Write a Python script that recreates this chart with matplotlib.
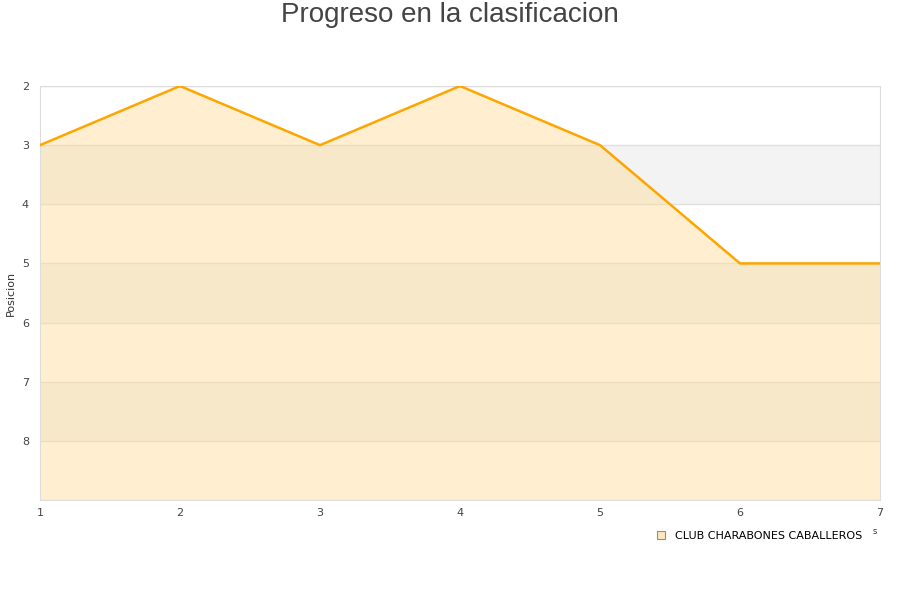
import matplotlib
matplotlib.use("Agg")
import matplotlib.pyplot as plt
from matplotlib.lines import Line2D

jornadas = [1, 2, 3, 4, 5, 6, 7]
posiciones = [3, 2, 3, 2, 3, 5, 5]
equipo = "CLUB CHARABONES CABALLEROS"
y_ticks = [2, 3, 4, 5, 6, 7, 8]
bandas = [(3, 4), (5, 6), (7, 8)]
y_min, y_max = 2, 9

fig = plt.figure(figsize=(9, 6), dpi=100)
ax = fig.add_axes([40/900, 100/600, 840/900, 414/600])

for a, b in bandas:
    ax.axhspan(a, b, color="#f3f3f3", zorder=0, lw=0)
for t in range(y_min, y_max + 1):
    ax.axhline(t, color="#e0e0e0", lw=1, zorder=1)

ax.fill_between(jornadas, posiciones, y_max, color="#ffd98a", alpha=0.4, lw=0, zorder=2)
ax.plot(jornadas, posiciones, color="#ffa500", lw=1.8, zorder=3)

ax.set_xlim(1, 7)
ax.set_ylim(y_max, y_min)
ax.set_xticks(jornadas)
ax.set_yticks(y_ticks)
ax.tick_params(length=0, labelsize=8, colors="#444444", pad=8)
ax.tick_params(axis="x", pad=6)
for s in ax.spines.values():
    s.set_color("#dddddd")

# y label placed by hand so it does not get clipped at the left edge
fig.text(11/900, 1 - 293/600, "Posicion", fontsize=8, color="#333333",
         rotation=90, ha="center", va="center")

fig.text(0.5, 1 - 15/600, "Progreso en la clasificacion", fontsize=20,
         color="#444444", ha="center", va="center", family="Liberation Sans")

handle = Line2D([], [], marker="s", ls="", markersize=6,
                markerfacecolor="#fde8c4", markeredgecolor="#b08a50", markeredgewidth=0.8)
fig.legend([handle], [equipo], loc="center", bbox_to_anchor=(756/900, 1 - 536/600),
           frameon=False, fontsize=8, handletextpad=0.3)
fig.text(875/900, 1 - 532/600, "s", fontsize=6, color="#333333", ha="center", va="center")

fig.savefig("out.png", dpi=100)
